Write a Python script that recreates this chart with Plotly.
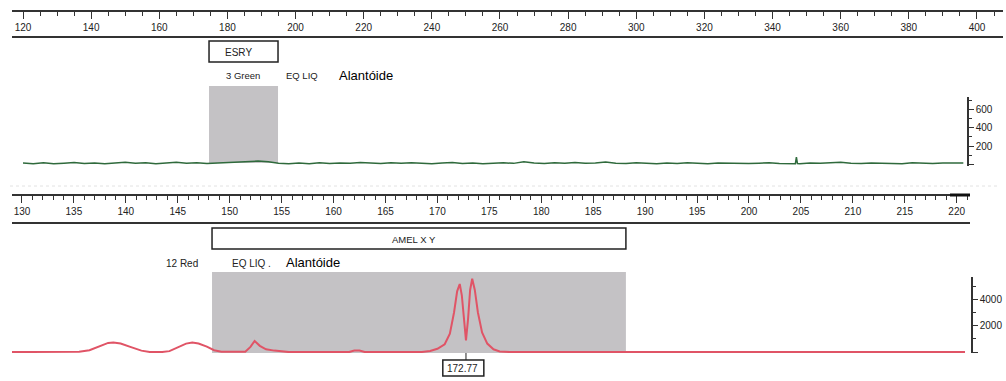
import plotly.graph_objects as go

W, H = 1006, 381
def px(x): return x / W
def py(y): return 1 - y / H

# ---- data ----
top_ticks = [120, 140, 160, 180, 200, 220, 240, 260, 280, 300, 320, 340, 360, 380, 400]
bottom_ticks = [130, 135, 140, 145, 150, 155, 160, 165, 170, 175, 180, 185, 190, 195, 200, 205, 210, 215, 220]
green_ticks = [0, 200, 400, 600]
red_ticks = [0, 2000, 4000]

green_y = [12, 6, 15, 4, 10, 18, 8, 14, 5, 12, 20, 9, 15, 6, 13, 22, 10, 16, 8, 14,
           18, 24, 30, 34, 26, 10, 4, 12, 6, 16, 8, 14, 10, 18, 12, 7, 15, 9, 16, 11,
           5, 14, 18, 8, 13, 6, 12, 16, 9, 28, 12, 8, 15, 10, 18, 9, 14, 24, 10, 7,
           15, 11, 6, 13, 8, 16, 10, 5, 12, 9, 14, 7, 11, 15, 8, 10, 6, 12, 9, 15,
           22, 10, 7, 14, 9, 12, 6, 15, 10, 8, 13, 9, 12]
green_x = [120 + 3 * i for i in range(len(green_y))]
spike_x = [346.7, 347.0, 347.3]
spike_y = [6, 78, 8]

red_x = [129.0, 134.5, 135.5, 136.5, 137.5, 138.3, 138.8, 139.5, 140.5, 141.5, 142.3,
         143.5, 144.2, 145.0, 145.8, 146.4, 147.0, 147.8, 148.5, 149.2, 150.5,
         151.5, 152.0, 152.4, 152.9, 153.5, 154.3, 155.0, 155.7,
         161.5, 162.0, 162.5, 163.0,
         168.5, 169.3, 170.0, 170.7, 171.2, 171.6, 171.9, 172.15, 172.35, 172.55,
         172.75, 172.95, 173.15, 173.35, 173.6, 173.9, 174.3, 174.8, 175.4, 176.0,
         177.0, 220.8]
red_y = [10, 10, 30, 150, 450, 700, 740, 660, 380, 120, 20,
         15, 80, 350, 650, 730, 660, 420, 150, 30, 15,
         40, 400, 850, 480, 220, 120, 60, 10,
         10, 120, 130, 15,
         15, 90, 260, 600, 1400, 3000, 4600, 5150, 4300, 2400,
         900, 2500, 4700, 5550, 4700, 3000, 1500, 650, 220, 60,
         10, 8]

green_bin = (174.6, 194.85)
red_bin = (148.3, 188.15)
peak_label = "172.77"
peak_label_x = 172.75

# merge spike into green trace
gx = green_x + spike_x
gy = green_y + spike_y
order = sorted(range(len(gx)), key=lambda i: gx[i])
gx = [gx[i] for i in order]
gy = [gy[i] for i in order]

fig = go.Figure()
fig.add_trace(go.Scatter(x=gx, y=gy, mode="lines", xaxis="x", yaxis="y",
                         line=dict(color="#2f6a3c", width=1.5), showlegend=False,
                         hoverinfo="skip"))
fig.add_trace(go.Scatter(x=red_x, y=red_y, mode="lines", xaxis="x2", yaxis="y2",
                         line=dict(color="#e05466", width=2), showlegend=False,
                         hoverinfo="skip"))

axcol = "#333333"
tf = dict(family="Liberation Sans, Arial, sans-serif", size=10, color="#222")

fig.update_layout(
    width=W, height=H, margin=dict(l=0, r=0, t=0, b=0),
    paper_bgcolor="white", plot_bgcolor="rgba(0,0,0,0)",
    xaxis=dict(domain=[px(12), px(1003)], range=[116.77, 407.64], anchor="free",
               position=py(11), side="bottom", showline=True, linewidth=2,
               linecolor=axcol, ticks="outside", ticklen=7, tickcolor=axcol,
               tickvals=top_ticks, tickfont=tf, showgrid=False, zeroline=False,
               minor=dict(dtick=5, tick0=120, ticks="outside", ticklen=4,
                          tickcolor=axcol, showgrid=False)),
    xaxis2=dict(domain=[px(12), px(970)], range=[129.04, 221.28], anchor="free",
                position=py(195), side="bottom", showline=True, linewidth=2,
                linecolor=axcol, ticks="outside", ticklen=7, tickcolor=axcol,
                tickvals=bottom_ticks, tickfont=tf, showgrid=False, zeroline=False,
                minor=dict(dtick=1, tick0=130, ticks="outside", ticklen=4,
                           tickcolor=axcol, showgrid=False)),
    yaxis=dict(domain=[py(166), py(97)], range=[-20, 740], anchor="free",
               position=px(968), side="right", showline=True, linewidth=1.5,
               linecolor=axcol, ticks="outside", ticklen=5, tickcolor=axcol,
               tickvals=green_ticks, ticktext=[""] + [str(v) for v in green_ticks[1:]],
               tickfont=tf, showgrid=False, zeroline=False,
               minor=dict(dtick=100, ticks="outside", ticklen=3, tickcolor=axcol,
                          showgrid=False)),
    yaxis2=dict(domain=[py(353), py(277)], range=[-60, 5680], anchor="free",
                position=px(972), side="right", showline=True, linewidth=1.5,
                linecolor=axcol, ticks="outside", ticklen=5, tickcolor=axcol,
                tickvals=red_ticks, ticktext=[""] + [str(v) for v in red_ticks[1:]],
                tickfont=tf, showgrid=False, zeroline=False,
                minor=dict(dtick=1000, ticks="outside", ticklen=3, tickcolor=axcol,
                           showgrid=False)),
)

shapes = [
    # bins (grey)
    dict(type="rect", xref="x", yref="paper", x0=green_bin[0], x1=green_bin[1],
         y0=py(163), y1=py(86), fillcolor="#c4c2c5", line=dict(width=0), layer="below"),
    dict(type="rect", xref="x2", yref="paper", x0=red_bin[0], x1=red_bin[1],
         y0=py(353), y1=py(272), fillcolor="#c4c2c5", line=dict(width=0), layer="below"),
    # marker boxes
    dict(type="rect", xref="x", yref="paper", x0=green_bin[0], x1=green_bin[1],
         y0=py(62), y1=py(41), line=dict(color="#222", width=1.5)),
    dict(type="rect", xref="x2", yref="paper", x0=red_bin[0], x1=red_bin[1],
         y0=py(249), y1=py(228), line=dict(color="#222", width=1.5)),
    # peak label box + pointer
    dict(type="rect", xref="x2", yref="paper", x0=170.52, x1=174.47,
         y0=py(376), y1=py(360), line=dict(color="#222", width=1.5)),
    dict(type="line", xref="x2", yref="paper", x0=peak_label_x, x1=peak_label_x,
         y0=py(353), y1=py(360), line=dict(color="#222", width=1)),
    # ruler lower lines
    dict(type="line", xref="paper", yref="paper", x0=px(12), x1=px(1003),
         y0=py(37), y1=py(37), line=dict(color=axcol, width=2)),
    dict(type="line", xref="paper", yref="paper", x0=px(12), x1=px(970),
         y0=py(223), y1=py(223), line=dict(color=axcol, width=2)),
    dict(type="line", xref="paper", yref="paper", x0=px(950), x1=px(970),
         y0=py(195), y1=py(195), line=dict(color="#111", width=3)),
    # faint separator
    dict(type="line", xref="paper", yref="paper", x0=px(10), x1=px(1000),
         y0=py(186), y1=py(186), line=dict(color="#e2e2e2", width=1, dash="dot")),
]
fig.update_layout(shapes=shapes)

small = dict(family="Liberation Sans, Arial, sans-serif", size=10, color="#222")
big = dict(family="Liberation Sans, Arial, sans-serif", size=13, color="#000")
ann = [
    ("ESRY", 238, 52, small),
    ("3 Green", 243, 76, dict(small, size=9.5)),
    ("EQ LIQ", 302, 76, dict(small, size=9.5)),
    ("Alantóide", 366, 75, big),
    ("AMEL X Y", 414, 239, dict(small, size=9.5)),
    ("12 Red", 182, 263, small),
    ("EQ LIQ .", 251, 263, small),
    ("Alantóide", 313, 262, big),
    (peak_label, 462.5, 368.5, small),
]
fig.update_layout(annotations=[
    dict(text=t, x=px(x), y=py(y), xref="paper", yref="paper", showarrow=False,
         xanchor="center", yanchor="middle", font=f)
    for t, x, y, f in ann
])

fig.write_html("out.html", config={"displayModeBar": False},
               post_script="document.body.style.margin='0';document.body.style.overflow='hidden';")
